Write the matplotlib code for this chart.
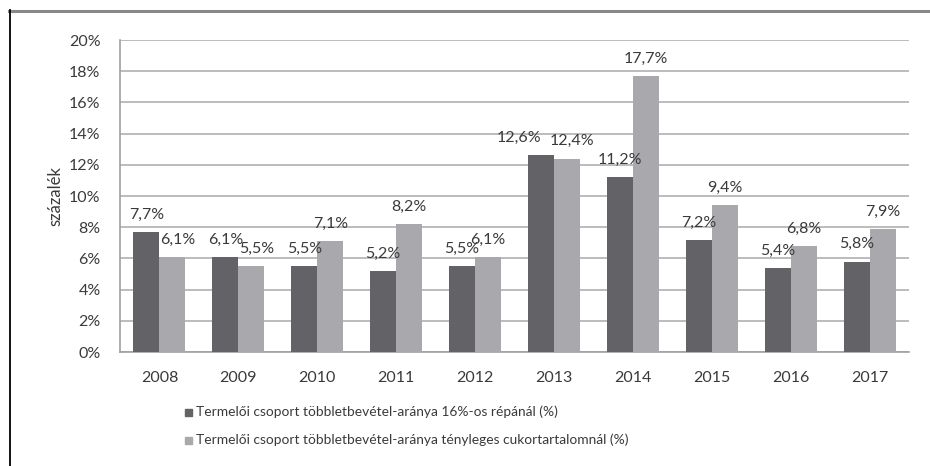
import matplotlib
matplotlib.use("Agg")
import matplotlib.pyplot as plt
from matplotlib.lines import Line2D
from matplotlib.patches import Rectangle
import numpy as np

years = ["2008", "2009", "2010", "2011", "2012", "2013", "2014", "2015", "2016", "2017"]
dark_vals = [7.7, 6.1, 5.5, 5.2, 5.5, 12.6, 11.2, 7.2, 5.4, 5.8]
light_vals = [6.1, 5.5, 7.1, 8.2, 6.1, 12.4, 17.7, 9.4, 6.8, 7.9]
series_names = [
    "Termelői csoport többletbevétel-aránya 16%-os répánál (%)",
    "Termelői csoport többletbevétel-aránya tényleges cukortartalomnál (%)",
]
yticks = [0, 2, 4, 6, 8, 10, 12, 14, 16, 18, 20]

plt.rcParams['font.family'] = ['Lato', 'DejaVu Sans']

W, H = 930, 466
fig = plt.figure(figsize=(W / 100, H / 100), dpi=100)
ax = fig.add_axes([120 / W, 1 - 352 / H, (909 - 120) / W, (352 - 40) / H])

dark_c = "#636367"
light_c = "#a9a9ad"
txt_c = "#3a3a3a"
x = np.arange(len(years))
bw = 0.33
ax.bar(x - bw / 2, dark_vals, bw, color=dark_c, zorder=3)
ax.bar(x + bw / 2, light_vals, bw, color=light_c, zorder=3)

fs = 11.5


def fmt(v):
    return f"{v:.1f}%".replace(".", ",")


# labels centred above bars; nudged apart where the pair would collide
for xi, d, l in zip(x, dark_vals, light_vals):
    dx_d = -0.28 if abs(d - l) < 0.5 else 0.0
    dx_l = 0.07 if l <= d else 0.0
    ax.annotate(fmt(d), (xi - bw / 2 + dx_d, d), xytext=(0, 9.5),
                textcoords="offset points", ha="center", va="baseline",
                fontsize=fs, color=txt_c, zorder=5)
    ax.annotate(fmt(l), (xi + bw / 2 + dx_l, l), xytext=(0, 9.5),
                textcoords="offset points", ha="center", va="baseline",
                fontsize=fs, color=txt_c, zorder=5)

ax.set_xlim(-0.5, len(years) - 0.5)
ax.set_ylim(0, 20)
ax.set_yticks(yticks)
ax.set_yticklabels([f"{t}%" for t in yticks], fontsize=fs, color=txt_c)
ax.set_xticks(x)
ax.set_xticklabels(years, fontsize=fs, color=txt_c)
ax.tick_params(axis="both", length=0)
ax.tick_params(axis="y", pad=14)
ax.tick_params(axis="x", pad=14)
ax.grid(axis="y", color="#b0b0b0", linewidth=1.2, zorder=0)
for s in ["top", "right"]:
    ax.spines[s].set_visible(False)
ax.spines["left"].set_color("#a0a0a0")
ax.spines["bottom"].set_color("#a0a0a0")
ax.spines["left"].set_linewidth(1.2)
ax.spines["bottom"].set_linewidth(1.2)
ax.set_ylabel("százalék", fontsize=12, color=txt_c, labelpad=4)

# legend entries
for i, (name, col) in enumerate(zip(series_names, [dark_c, light_c])):
    yy = 1 - (412 + 28 * i) / H
    fig.patches.append(Rectangle((185 / W, yy - 3.5 / H), 7 / W, 7 / H,
                                 transform=fig.transFigure, color=col))
    fig.text(196 / W, yy, name, fontsize=9.9, color=txt_c, va="center", ha="left")

# outer frame
fig.add_artist(Line2D([9 / W, 1], [1 - 10.5 / H, 1 - 10.5 / H], color="#888888", linewidth=2.2,
                      transform=fig.transFigure))
fig.add_artist(Line2D([9.5 / W, 9.5 / W], [0, 1 - 10 / H], color="black", linewidth=1.3,
                      transform=fig.transFigure))

fig.savefig("out.png", dpi=100)
